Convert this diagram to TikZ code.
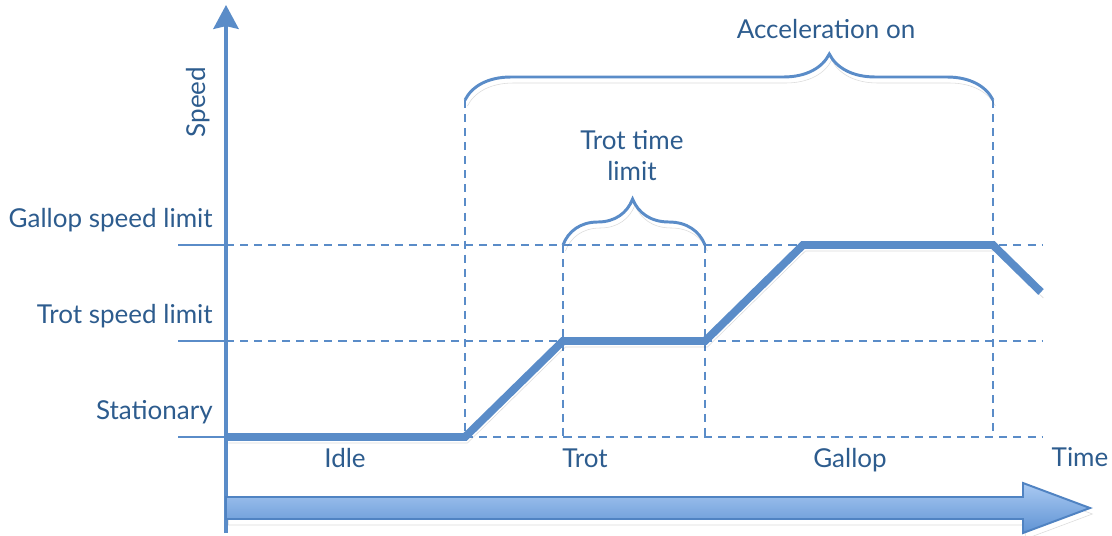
\documentclass[tikz,border=0pt]{standalone}
\usepackage{fontspec}
\setmainfont{Lato}
\usetikzlibrary{arrows.meta,decorations.pathreplacing}
\definecolor{chartline}{HTML}{5A8CC8}
\definecolor{charttext}{HTML}{2D5C8E}
\definecolor{arrowtop}{HTML}{AACAF2}
\definecolor{arrowbot}{HTML}{5F93D4}
\definecolor{arrowedge}{HTML}{5083C2}

\begin{document}
\begin{tikzpicture}[
  x=0.025cm,
  y=-0.025cm,
  every node/.style={font=\fontsize{18.5}{22}\selectfont, text=charttext, inner sep=0pt},
  softshadow/.style={preaction={draw=black, draw opacity=0.14,
                     transform canvas={shift={(0.06cm,-0.15cm)}}}},
  axis/.style={chartline, line width=2.4pt,
               -{Stealth[length=17pt, width=18pt, inset=2pt]}},
  level/.style={chartline, line width=1.8pt},
  guide/.style={chartline, line width=1.7pt, dash pattern=on 5.7pt off 4.3pt},
  profile/.style={chartline, line width=5.6pt, softshadow},
  bracket/.style={chartline, line width=2.1pt, softshadow, decorate,
                  decoration={brace, amplitude=#1}},
  bracket/.default=1.15cm,
  timearrow/.style={draw=arrowedge, line width=1.4pt, top color=arrowtop,
                    bottom color=arrowbot}
]
  \useasboundingbox (0,0) rectangle (1112,535);

  % ---- speed levels: short solid mark left of the axis, dashed after it ----
  \foreach \y/\name in {245/gallop, 341/trot, 437/rest} {
    \coordinate (\name-l) at (178,\y);
    \coordinate (\name-a) at (226,\y);
    \coordinate (\name-r) at (1043,\y);
    \draw[level] (\name-l) -- (\name-a);
    \draw[guide] (\name-a) -- (\name-r);
  }

  % ---- phase boundaries ----
  \coordinate (acc-on)   at (465,100);
  \coordinate (acc-off)  at (993,100);
  \coordinate (trot-in)  at (563,245);
  \coordinate (trot-out) at (705,245);
  \draw[guide] (acc-on)   -- (acc-on |- rest-a);
  \draw[guide] (acc-off)  -- (acc-off |- rest-a);
  \draw[guide] (trot-in)  -- (trot-in |- rest-a);
  \draw[guide] (trot-out) -- (trot-out |- rest-a);

  % ---- speed axis ----
  \coordinate (axis-foot) at (226,533);
  \coordinate (axis-top)  at (226,5);
  \draw[axis] (axis-foot) -- (axis-top);

  % ---- time arrow ----
  \draw[timearrow, softshadow] (226,497) -- (1023,497) -- (1023,483)
    -- (1090,508) -- (1023,533) -- (1023,519) -- (226,519) -- cycle;

  % ---- speed profile ----
  \coordinate (p0) at (226,437);
  \coordinate (p1) at (465,437);
  \coordinate (p2) at (563,341);
  \coordinate (p3) at (705,341);
  \coordinate (p4) at (803,245);
  \coordinate (p5) at (993,245);
  \coordinate (p6) at (1041,292);
  \draw[profile] (p0) -- (p1) -- (p2) -- (p3) -- (p4) -- (p5) -- (p6);

  % ---- braces ----
  \draw[bracket, decoration={aspect=0.69}] (acc-on) -- (acc-off);
  \draw[bracket, decoration={aspect=0.49}] (trot-in) -- (trot-out);

  % ---- level labels ----
  \node[anchor=base east] (lab-gallop) at (213,227) {Gallop speed limit};
  \node[anchor=base east] (lab-trot)   at (213,323) {Trot speed limit};
  \node[anchor=base east] (lab-rest)   at (213,419) {Stationary};
  \node[rotate=90, anchor=base] (lab-speed) at (205,102) {Speed};

  % ---- phase labels ----
  \node[anchor=base] (ph-idle)   at (345,467) {Idle};
  \node[anchor=base] (ph-trot)   at (585,467) {Trot};
  \node[anchor=base] (ph-gallop) at (850,467) {Gallop};
  \node[anchor=base] (lab-time)  at (1080,466) {Time};

  % ---- brace labels ----
  \node[anchor=base] (lab-acc)   at (826,38) {Acceleration on};
  \node[anchor=base] (lab-tt1)   at (632,149) {Trot time};
  \node[anchor=base] (lab-tt2)   at (632,180) {limit};
\end{tikzpicture}
\end{document}
